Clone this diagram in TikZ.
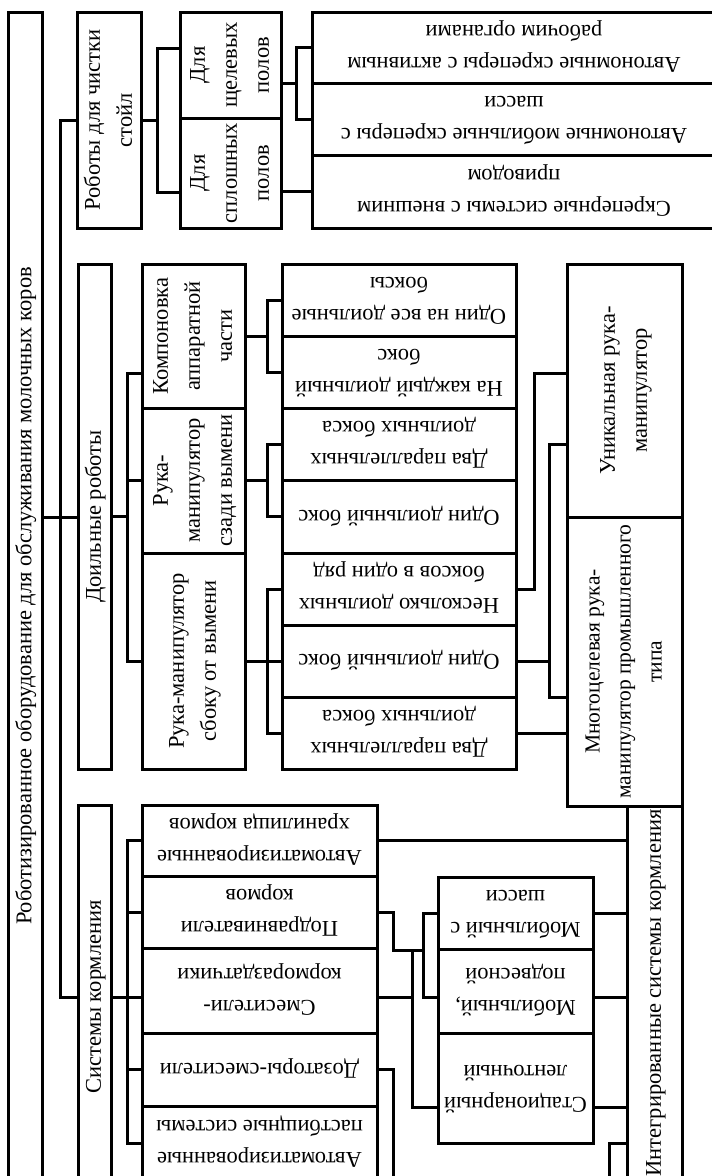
\documentclass[tikz,border=0pt]{standalone}
\usepackage{fontspec}
\setmainfont{Liberation Serif}
\usepackage{graphicx}
\newcommand{\vtext}[1]{\rotatebox{90}{\begin{tabular}{@{}c@{}}#1\end{tabular}}}
\newcommand{\ftext}[1]{\rotatebox{180}{\begin{tabular}{@{}c@{}}#1\end{tabular}}}
\tikzset{
  blk/.style={draw, line width=3pt, inner sep=0pt, outer sep=0pt,
    font=\fontsize{22.5}{32}\selectfont},
  wire/.style={line width=3pt}
}
\begin{document}
\begin{tikzpicture}[x=1pt, y=-1pt]
  \useasboundingbox (0,0) rectangle (712,1176);
  \clip (0,0) rectangle (712,1176);
  % root and first level
  \node[blk, minimum width=34pt, minimum height=1168pt] (root) at (25,596)
    {\vtext{Роботизированное оборудование для обслуживания молочных коров}};
  \node[blk, minimum width=63pt, minimum height=216pt] (clean) at (109.5,120)
    {\vtext{Роботы для чистки\\стойл}};
  \node[blk, minimum width=33pt, minimum height=505pt] (milk) at (94.5,516.5)
    {\vtext{Доильные роботы}};
  \node[blk, minimum width=33pt, minimum height=384pt] (feed) at (94.5,997)
    {\vtext{Системы кормления}};
  % cleaning robots
  \node[blk, minimum width=101pt, minimum height=106pt] (slot) at (230.5,65)
    {\vtext{Для\\щелевых\\полов}};
  \node[blk, minimum width=101pt, minimum height=110pt] (solid) at (230.5,173)
    {\vtext{Для\\сплошных\\полов}};
  \node[blk, minimum width=404pt, minimum height=71pt] (activ) at (514,47.5)
    {\ftext{Автономные скреперы с активным\\рабочим органами}};
  \node[blk, minimum width=404pt, minimum height=72pt] (mobil) at (514,119)
    {\ftext{Автономные мобильные скреперы с\\шасси}};
  \node[blk, minimum width=404pt, minimum height=73pt] (ext) at (514,191.5)
    {\ftext{Скреперные системы с внешним\\приводом}};
  % milking robots
  \node[blk, minimum width=103pt, minimum height=144pt] (layout) at (193.5,336)
    {\vtext{Компоновка\\аппаратной\\части}};
  \node[blk, minimum width=103pt, minimum height=145pt] (back) at (193.5,480.5)
    {\vtext{Рука-\\манипулятор\\сзади вымени}};
  \node[blk, minimum width=103pt, minimum height=216pt] (side) at (193.5,661)
    {\vtext{Рука-манипулятор\\сбоку от вымени}};
  \node[blk, minimum width=234pt, minimum height=72pt] (allbox) at (399,300)
    {\ftext{Один на все доильные\\боксы}};
  \node[blk, minimum width=234pt, minimum height=72pt] (eachbox) at (399,372)
    {\ftext{На каждый доильный\\бокс}};
  \node[blk, minimum width=234pt, minimum height=72pt] (backpar) at (399,444)
    {\ftext{Два параллельных\\доильных бокса}};
  \node[blk, minimum width=234pt, minimum height=73pt] (backone) at (399,516.5)
    {\ftext{Один доильный бокс}};
  \node[blk, minimum width=234pt, minimum height=72pt] (siderow) at (399,589)
    {\ftext{Несколько доильных\\боксов в один ряд}};
  \node[blk, minimum width=234pt, minimum height=72pt] (sideone) at (399,661)
    {\ftext{Один доильный бокс}};
  \node[blk, minimum width=234pt, minimum height=72pt] (sidepar) at (399,733)
    {\ftext{Два параллельных\\доильных бокса}};
  \node[blk, minimum width=115pt, minimum height=253pt] (unique) at (624.5,390.5)
    {\vtext{Уникальная рука-\\манипулятор}};
  \node[blk, minimum width=115pt, minimum height=289pt, font=\fontsize{21.5}{31}\selectfont]
    (multi) at (624.5,661.5)
    {\vtext{Многоцелевая рука-\\манипулятор промышленного\\типа}};
  % feeding systems
  \node[blk, minimum width=235pt, minimum height=71pt] (store) at (259.5,840.5)
    {\ftext{Автоматизированные\\хранилища кормов}};
  \node[blk, minimum width=235pt, minimum height=72pt] (level) at (259.5,912)
    {\ftext{Подравниватели\\кормов}};
  \node[blk, minimum width=235pt, minimum height=85pt] (mixer) at (259.5,990.5)
    {\ftext{Смесители-\\кормораздатчики}};
  \node[blk, minimum width=235pt, minimum height=73pt] (dose) at (259.5,1069.5)
    {\ftext{Дозаторы-смесители}};
  \node[blk, minimum width=235pt, minimum height=74pt] (past) at (259.5,1143)
    {\ftext{Автоматизированные\\пастбищные системы}};
  \node[blk, minimum width=155pt, minimum height=72pt] (mshas) at (515.5,913)
    {\ftext{Мобильный с\\шасси}};
  \node[blk, minimum width=155pt, minimum height=84pt] (mhang) at (515.5,991)
    {\ftext{Мобильный,\\подвесной}};
  \node[blk, minimum width=155pt, minimum height=110pt] (belt) at (515.5,1088)
    {\ftext{Стационарный\\ленточный}};
  \node[blk, minimum width=55pt, minimum height=374pt] (integ) at (654.5,993)
    {\vtext{Интегрированные системы кормления}};
  % trunk
  \draw[wire] (root.east |- 0,517) -- (milk.west |- 0,517);
  \draw[wire] (clean.west) -| (60,997) -- (feed.west |- 0,997);
  % cleaning links
  \draw[wire] (clean.east) -- (157,120);
  \draw[wire] (slot.west |- 0,48) -| (157,192) -- (solid.west |- 0,192);
  \draw[wire] (slot.east |- 0,83) -- (296,83);
  \draw[wire] (activ.west) -| (mobil.west -| 296,0) -- (mobil.west);
  \draw[wire] (solid.east |- ext.west) -- (ext.west);
  % milking links
  \draw[wire] (milk.east) -- (milk.east -| 127,0);
  \draw[wire] (layout.west |- 0,373) -| (side.west -| 127,0) -- (side.west);
  \draw[wire] (back.west -| 127,0) -- (back.west);
  \draw[wire] (layout.east) -- (layout.east -| 267,0);
  \draw[wire] (allbox.west) -| (eachbox.west -| 267,0) -- (eachbox.west);
  \draw[wire] (back.east) -- (back.east -| 267,0);
  \draw[wire] (backpar.west) -| (backone.west -| 267,0) -- (backone.west);
  \draw[wire] (side.east) -- (side.east -| 267,0);
  \draw[wire] (siderow.west) -| (sidepar.west -| 267,0) -- (sidepar.west);
  \draw[wire] (sideone.west -| 267,0) -- (sideone.west);
  \draw[wire] (siderow.east) -| (534,373) -- (unique.west |- 0,373);
  \draw[wire] (sideone.east) -| (549,444) -- (unique.west |- 0,444);
  \draw[wire] (sideone.east -| 549,0) |- (multi.west |- 0,697);
  \draw[wire] (sidepar.east) -- (multi.west |- sidepar.east);
  % feeding links
  \draw[wire] (feed.east) -- (mixer.west |- feed.east);
  \draw[wire] (store.west) -| (past.west -| 127,0) -- (past.west);
  \draw[wire] (level.west -| 127,0) -- (level.west);
  \draw[wire] (dose.west -| 127,0) -- (dose.west);
  \draw[wire] (level.east) -| (393,950) -- (423,950);
  \draw[wire] (mshas.west) -| (423,997) -- (mhang.west |- 0,997);
  \draw[wire] (412,950) |- (belt.west |- 0,1107);
  \draw[wire] (mixer.east |- 0,997) -- (412,997);
  \draw[wire] (dose.east) -| (393,1190);
  \draw[wire] (store.east) -- (integ.west |- store.east);
  \draw[wire] (mshas.east) -- (integ.west |- mshas.east);
  \draw[wire] (mhang.east |- 0,997) -- (integ.west |- 0,997);
  \draw[wire] (belt.east |- 0,1107) -- (integ.west |- 0,1107);
  \draw[wire] (integ.west |- belt.south) -| (609,1190);
\end{tikzpicture}
\end{document}
